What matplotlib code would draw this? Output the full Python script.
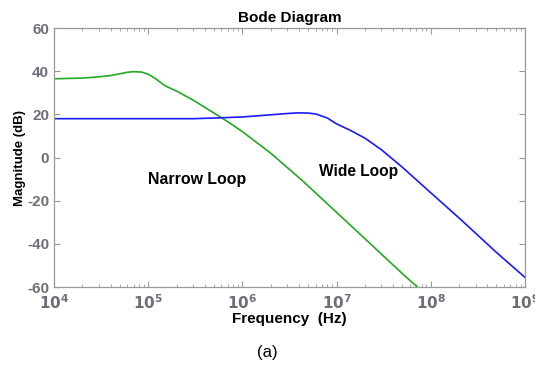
import math
import matplotlib.pyplot as plt
from matplotlib.ticker import FixedLocator, LogLocator, NullFormatter, FuncFormatter

# datos
freq_narrow = [1e4, 2e4, 3e4, 4e4, 5e4, 6e4, 7e4, 8.5e4, 1e5, 1.2e5, 1.5e5, 2e5,
               3e5, 5e5, 7e5, 1e6, 2e6, 4.26e6, 1e7, 2e7, 5e7, 7.2e7]
mag_narrow = [36.5, 36.8, 37.4, 38.0, 38.8, 39.5, 39.8, 39.6, 38.6, 36.5, 33.3, 30.8,
              26.6, 20.6, 16.6, 12.0, 2.0, -10.4, -25.4, -37.6, -53.8, -60.0]

freq_wide = [1e4, 1e5, 3e5, 5e5, 1e6, 2e6, 3e6, 4e6, 5e6, 6e6, 8e6, 1e7, 1.4e7, 2e7,
             3e7, 5e7, 1e8, 2e8, 5e8, 1e9]
mag_wide = [18.0, 18.0, 18.0, 18.3, 18.8, 19.8, 20.4, 20.7, 20.6, 20.2, 18.3, 15.6, 12.6,
            9.0, 3.6, -4.5, -16.3, -28.0, -44.0, -55.5]

y_ticks = [-60, -40, -20, 0, 20, 40, 60]
x_ticks = [1e4, 1e5, 1e6, 1e7, 1e8, 1e9]

plt.rcParams['font.family'] = ['Liberation Sans', 'DejaVu Sans']
plt.rcParams['axes.unicode_minus'] = False

fig = plt.figure(figsize=(5.35, 3.71), dpi=100)
ax = fig.add_axes([0.101, 0.2264, 0.880, 0.698])

ax.plot(freq_narrow, mag_narrow, color='#22aa22', linewidth=1.2)
ax.plot(freq_wide, mag_wide, color='#1a1aff', linewidth=1.2)

ax.set_xscale('log')
ax.set_xlim(1e4, 1e9)
ax.set_ylim(-60, 60)

ax.xaxis.set_major_locator(FixedLocator(x_ticks))
ax.xaxis.set_minor_locator(LogLocator(base=10, subs=range(2, 10), numticks=20))
ax.xaxis.set_minor_formatter(NullFormatter())
ax.xaxis.set_major_formatter(FuncFormatter(
    lambda v, p: r'$\mathbf{10^{%d}}$' % round(math.log10(v))))
ax.yaxis.set_major_locator(FixedLocator(y_ticks))

gris = '#6e6e78'
ax.tick_params(which='both', direction='in', top=True, right=True, colors='#999999',
               labelcolor=gris)
ax.tick_params(which='major', length=4, width=0.8, labelsize=11)
ax.tick_params(which='minor', length=2.5, width=0.6)
ax.tick_params(axis='x', which='major', pad=4.5)
for lbl in ax.get_yticklabels():
    lbl.set_fontweight('bold')
for s in ax.spines.values():
    s.set_color('#999999')
    s.set_linewidth(0.9)

ax.set_title('Bode Diagram', fontsize=11, fontweight='bold', pad=4)
ax.set_xlabel('Frequency  (Hz)', fontsize=11, fontweight='bold', labelpad=0)
ax.set_ylabel('Magnitude (dB)', fontsize=9.5, fontweight='bold', labelpad=1)

ax.text(3.3e5, -10, 'Narrow Loop', fontsize=11.4, fontweight='bold', ha='center', va='center')
ax.text(1.7e7, -6.5, 'Wide Loop', fontsize=11.2, fontweight='bold', ha='center', va='center')

fig.text(0.5, 1 - 352 / 371, '(a)', fontsize=12, ha='center', va='center')

plt.savefig('out.png', dpi=100, facecolor='white')
